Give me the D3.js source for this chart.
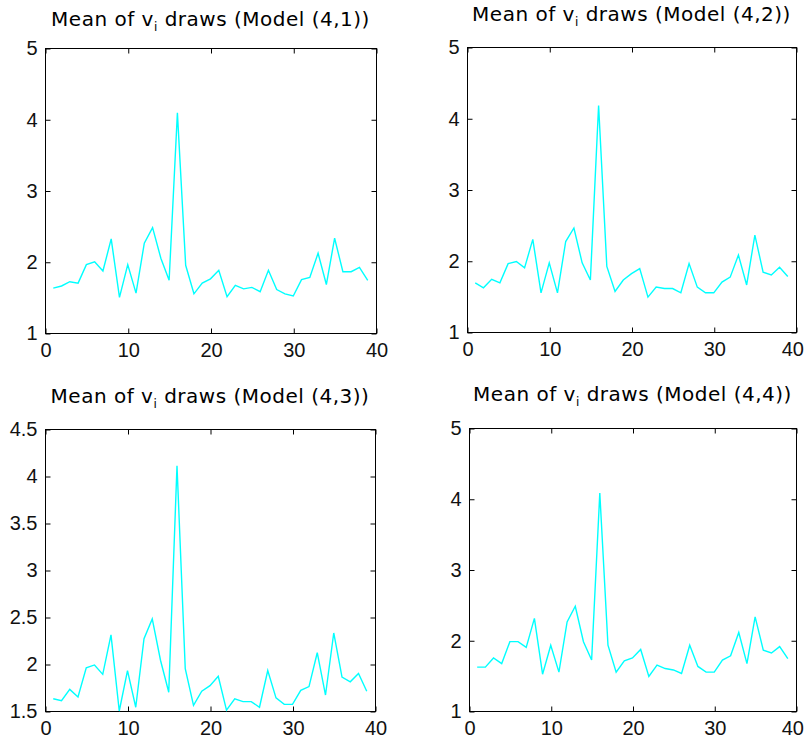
<!DOCTYPE html>
<html>
<head>
<meta charset="utf-8">
<script src="https://cdn.jsdelivr.net/npm/d3@7"></script>
<style>
	body { margin: 0; background: #fff; }
	.tick text { font-family: "Liberation Sans", Arial, sans-serif; font-size: 20px; fill: #111; }
	.title { font-family: "DejaVu Sans", Verdana, sans-serif; font-size: 20px; letter-spacing: 0.5px; fill: #000; }
</style>
</head>
<body>
<svg id="chart"></svg>
<script>
// mean of v_i draws, one value per i = 1..39
const model41 = [1.63, 1.66, 1.72, 1.70, 1.96, 2.00, 1.87, 2.32, 1.50, 1.96,
	1.56, 2.26, 2.48, 2.05, 1.74, 4.09, 1.95, 1.55, 1.70, 1.76,
	1.88, 1.51, 1.67, 1.62, 1.64, 1.58, 1.88, 1.61, 1.55, 1.52,
	1.75, 1.78, 2.12, 1.68, 2.33, 1.86, 1.86, 1.92, 1.74];
const model42 = [1.69, 1.62, 1.74, 1.69, 1.96, 1.99, 1.90, 2.30, 1.55, 1.97,
	1.55, 2.27, 2.46, 1.97, 1.73, 4.18, 1.92, 1.57, 1.73, 1.82,
	1.89, 1.49, 1.63, 1.61, 1.61, 1.55, 1.96, 1.63, 1.55, 1.55,
	1.70, 1.77, 2.08, 1.66, 2.36, 1.84, 1.80, 1.91, 1.78];
const model43 = [1.63, 1.61, 1.73, 1.65, 1.96, 1.99, 1.89, 2.31, 1.50, 1.93,
	1.54, 2.27, 2.48, 2.04, 1.70, 4.11, 1.95, 1.56, 1.71, 1.77,
	1.87, 1.51, 1.63, 1.60, 1.60, 1.54, 1.93, 1.64, 1.57, 1.57,
	1.72, 1.76, 2.12, 1.67, 2.33, 1.86, 1.81, 1.90, 1.71];
const model44 = [1.62, 1.62, 1.75, 1.67, 1.98, 1.98, 1.90, 2.31, 1.52, 1.93,
	1.55, 2.26, 2.48, 1.98, 1.72, 4.08, 1.93, 1.55, 1.71, 1.75,
	1.87, 1.49, 1.65, 1.60, 1.58, 1.53, 1.93, 1.63, 1.55, 1.55,
	1.72, 1.78, 2.11, 1.67, 2.33, 1.86, 1.82, 1.91, 1.74];

const modelNames = ["(4,1)", "(4,2)", "(4,3)", "(4,4)"];
const xTicks = [0, 10, 20, 30, 40];
const yTicksA = [1, 2, 3, 4, 5];
const yTicksB = [1.5, 2, 2.5, 3, 3.5, 4, 4.5];

const width = 806, height = 742;

// panel boxes: left, right, top, bottom (axes area) and title baseline
let panels = [
	{ data: model41, name: modelNames[0], yDomain: [1, 5], yTicks: yTicksA, x0: 45, x1: 376, y0: 48, y1: 333, ty: 26 },
	{ data: model42, name: modelNames[1], yDomain: [1, 5], yTicks: yTicksA, x0: 467, x1: 796, y0: 47, y1: 332, ty: 21 },
	{ data: model43, name: modelNames[2], yDomain: [1.5, 4.5], yTicks: yTicksB, x0: 45, x1: 375, y0: 429, y1: 711, ty: 403 },
	{ data: model44, name: modelNames[3], yDomain: [1, 5], yTicks: yTicksA, x0: 469, x1: 796, y0: 428, y1: 711, ty: 401 }
];

let svg = d3.select("#chart")
	.attr("width", width)
	.attr("height", height);

for (let p of panels){
	let x = d3.scaleLinear().domain([0, 40]).range([p.x0, p.x1]);
	let y = d3.scaleLinear().domain(p.yDomain).range([p.y1, p.y0]);
	let g = svg.append("g");

	// box
	g.append("rect")
		.attr("x", p.x0 + 0.5)
		.attr("y", p.y0 + 0.5)
		.attr("width", p.x1 - p.x0)
		.attr("height", p.y1 - p.y0)
		.attr("fill", "none")
		.attr("stroke", "#000")
		.attr("stroke-width", 1);

	// ticks on all four sides, pointing inward
	let bottom = g.append("g")
		.attr("transform", "translate(0.5," + (p.y1 + 0.5) + ")")
		.call(d3.axisBottom(x).tickValues(xTicks).tickSize(-5).tickPadding(9).tickFormat(d3.format("d")));
	let top = g.append("g")
		.attr("transform", "translate(0.5," + (p.y0 + 0.5) + ")")
		.call(d3.axisTop(x).tickValues(xTicks).tickSize(-5).tickFormat(""));
	let left = g.append("g")
		.attr("transform", "translate(" + (p.x0 + 0.5) + ",0.5)")
		.call(d3.axisLeft(y).tickValues(p.yTicks).tickSize(-5).tickPadding(8).tickFormat(d => d3.format("")(d)));
	let right = g.append("g")
		.attr("transform", "translate(" + (p.x1 + 0.5) + ",0.5)")
		.call(d3.axisRight(y).tickValues(p.yTicks).tickSize(-5).tickFormat(""));
	for (let a of [bottom, top, left, right]){
		a.select(".domain").remove();
		a.selectAll("line").attr("stroke", "#000");
	}

	// keep the last x label inside the page
	bottom.selectAll(".tick text").each(function(){
		let box = this.getBoundingClientRect();
		if (box.right > width - 2)
			d3.select(this).attr("dx", (width - 2 - box.right) + "px");
	});

	// data line
	let line = d3.line()
		.x((d, i) => x(i + 1))
		.y(d => y(d));
	g.append("path")
		.datum(p.data)
		.attr("d", line)
		.attr("fill", "none")
		.attr("stroke", "#00ffff")
		.attr("stroke-width", 1.4);

	// title with subscript i
	let t = g.append("text")
		.attr("class", "title")
		.attr("x", (p.x0 + p.x1) / 2)
		.attr("y", p.ty)
		.attr("text-anchor", "middle");
	t.append("tspan").text("Mean of v");
	t.append("tspan").attr("font-size", 12).attr("dy", 5).text("i");
	t.append("tspan").attr("dy", -5).text(" draws (Model " + p.name + ")");
}
</script>
</body>
</html>
